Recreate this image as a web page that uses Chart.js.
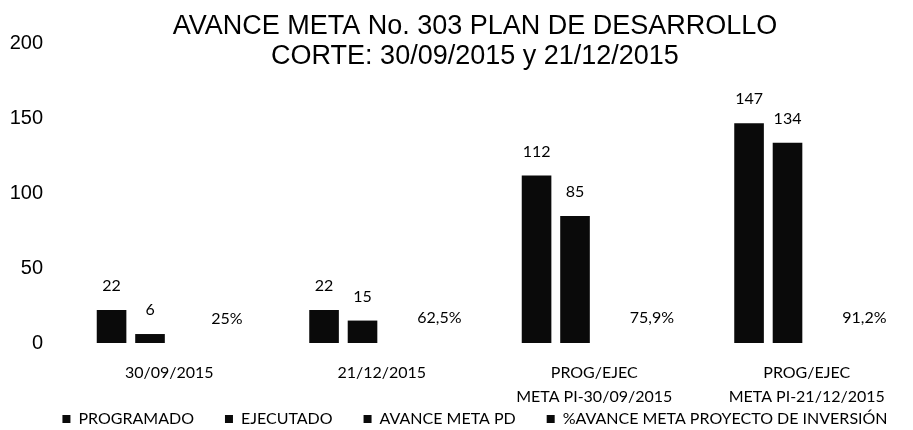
<!DOCTYPE html>
<html>
<head>
<meta charset="utf-8">
<script src="https://cdn.jsdelivr.net/npm/chart.js@4.4.0/dist/chart.umd.min.js"></script>
<style>
  html, body { margin: 0; padding: 0; background: #fff; overflow: hidden; }
  .chart { width: 913px; height: 430px; }
</style>
</head>
<body>
<div class="chart"><canvas id="avance"></canvas></div>
<script>
const categories = ['30/09/2015', '21/12/2015', ['PROG/EJEC', 'META PI-30/09/2015'], ['PROG/EJEC', 'META PI-21/12/2015']];
const programado = [22, 22, 112, 147];
const ejecutado = [6, 15, 85, 134];
const avanceMetaPD = [null, null, null, null];
const avanceMetaProyecto = [0.25, 0.625, 0.759, 0.912];
const yTicks = [0, 50, 100, 150, 200];

const arial = "'Liberation Sans', Arial, sans-serif";
const calibri = "Lato, 'Open Sans', sans-serif";
const ink = '#0a0a0a';

const pct = (v) => (v * 100).toLocaleString('es-CO', { maximumFractionDigits: 1 }) + '%';

// data labels above each bar (numbers, or % for the last series)
const valueLabels = {
  id: 'valueLabels',
  afterDatasetsDraw(chart) {
    const { ctx } = chart;
    ctx.save();
    ctx.font = `16px ${calibri}`;
    ctx.fillStyle = '#000';
    ctx.textAlign = 'center';
    ctx.textBaseline = 'middle';
    chart.data.datasets.forEach((ds, i) => {
      const meta = chart.getDatasetMeta(i);
      meta.data.forEach((bar, j) => {
        const v = ds.data[j];
        if (v == null) return;
        ctx.fillText(ds.isPercent ? pct(v) : String(v), bar.x, bar.y - 24);
      });
    });
    ctx.restore();
  },
};

// the legend sits right under the two-line category labels, closer than the layout allows
const legendLift = {
  id: 'legendLift',
  afterLayout(chart) {
    chart.legend.top -= 27;
    chart.legend.bottom -= 27;
  },
};

const barStyle = {
  backgroundColor: ink,
  borderWidth: 0,
  categoryPercentage: 0.724,
  barPercentage: 0.77,
};

new Chart(document.getElementById('avance'), {
  type: 'bar',
  data: {
    labels: categories,
    datasets: [
      { label: 'PROGRAMADO', data: programado, ...barStyle },
      { label: 'EJECUTADO', data: ejecutado, ...barStyle },
      { label: 'AVANCE META PD', data: avanceMetaPD, ...barStyle },
      // percent values sit at ~0 on the 0-200 axis, only their labels show
      {
        label: '%AVANCE META PROYECTO DE INVERSIÓN',
        data: avanceMetaProyecto,
        isPercent: true,
        ...barStyle,
        backgroundColor: 'rgba(0,0,0,0)',
      },
    ],
  },
  options: {
    responsive: true,
    maintainAspectRatio: false,
    animation: false,
    layout: {
      padding: { left: 9, right: -28, top: 0, bottom: -34 },
    },
    plugins: {
      title: {
        display: true,
        text: ['AVANCE META No. 303 PLAN DE DESARROLLO', 'CORTE: 30/09/2015 y 21/12/2015'],
        color: '#000',
        font: { family: arial, size: 27, weight: 'normal', lineHeight: 1.11 },
        padding: { top: 12, bottom: -28 },
      },
      legend: {
        position: 'bottom',
        labels: {
          color: '#000',
          font: { family: calibri, size: 16 },
          boxWidth: 8,
          boxHeight: 8,
          padding: 31,
          generateLabels: (chart) =>
            Chart.defaults.plugins.legend.labels.generateLabels(chart).map((item) => ({
              ...item,
              fillStyle: ink,
            })),
        },
      },
      tooltip: { enabled: false },
    },
    scales: {
      x: {
        grid: { display: false, drawTicks: false },
        border: { display: false },
        ticks: {
          color: '#000',
          font: { family: calibri, size: 16, lineHeight: 1.5 },
          padding: 18,
          maxRotation: 0,
          autoSkip: false,
        },
        afterFit: (scale) => { scale.height = 64; },
      },
      y: {
        min: yTicks[0],
        max: yTicks[yTicks.length - 1],
        grid: { display: false, drawTicks: false },
        border: { display: false },
        ticks: {
          color: '#000',
          font: { family: arial, size: 20 },
          padding: 20,
        },
        afterBuildTicks: (scale) => { scale.ticks = yTicks.map((value) => ({ value })); },
        afterFit: (scale) => { scale.width = 54; },
      },
    },
  },
  plugins: [valueLabels, legendLift],
});
</script>
</body>
</html>
